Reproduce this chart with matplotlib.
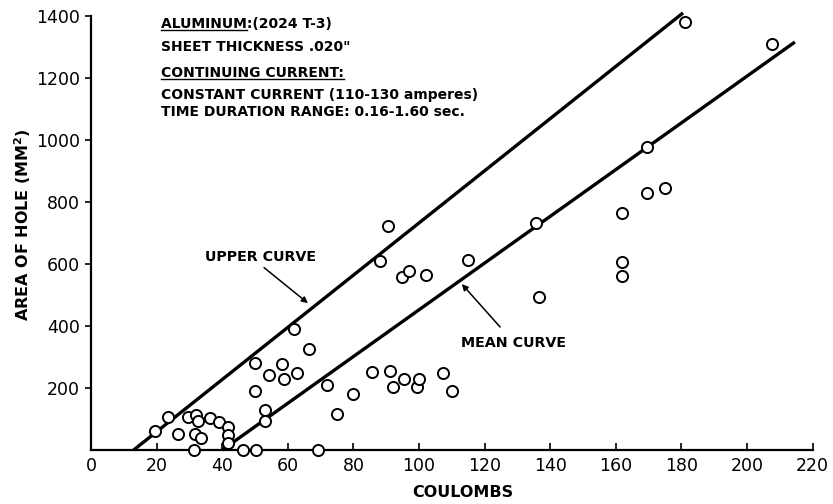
import matplotlib
matplotlib.use('Agg')
import matplotlib.pyplot as plt
from matplotlib.lines import Line2D

# data (coulombs, area mm^2)
coulombs = [19.5, 23.5, 26.6, 29.7, 32.0, 32.5, 31.7, 33.5, 36.3, 39.1,
            41.7, 41.9, 41.7, 31.5, 46.4, 50.3, 69.1, 53.0, 53.0, 50.0,
            50.0, 54.4, 58.1, 58.8, 62.9, 66.4, 62.0, 72.0, 75.0, 80.0,
            85.6, 91.2, 92.2, 95.5, 99.3, 100.0, 107.2, 110.0, 90.7, 88.0,
            94.7, 96.8, 102.0, 115.0, 135.6, 136.6, 161.8, 161.8, 161.8,
            169.5, 169.5, 175.0, 181.0, 207.6]
area = [61, 108, 52, 106, 113, 94, 52, 38, 103, 91,
        73, 48, 23, 0, 0, 0, 0, 129, 94, 191,
        280, 242, 276, 228, 250, 326, 389, 211, 116, 181,
        252, 254, 202, 228, 202, 228, 250, 190, 723, 611,
        559, 577, 566, 613, 733, 494, 764, 607, 562,
        977, 829, 845, 1380, 1310]

upper_x = [13.0, 180.5]
upper_y = [0, 1410]
mean_x = [40.0, 214.6]
mean_y = [0, 1316]

xticks = list(range(0, 221, 20))
yticks = list(range(200, 1401, 200))

info_lines = ['ALUMINUM:(2024 T-3)',
              'SHEET THICKNESS .020"',
              'CONTINUING CURRENT:',
              'CONSTANT CURRENT (110-130 amperes)',
              'TIME DURATION RANGE: 0.16-1.60 sec.']

fig = plt.figure(figsize=(8.33, 5.04), dpi=100)
ax = fig.add_axes([91 / 833, 54 / 504, 721.6 / 833, 434 / 504])

ax.plot(upper_x, upper_y, color='black', lw=2.4, clip_on=False, solid_capstyle='butt')
ax.plot(mean_x, mean_y, color='black', lw=2.4, clip_on=False, solid_capstyle='butt')
ax.plot(coulombs, area, 'o', ms=8, mfc='white', mec='black', mew=1.4,
        clip_on=False, zorder=3)

ax.set_xlim(0, 220)
ax.set_ylim(0, 1400)
ax.set_xticks(xticks)
ax.set_yticks(yticks)
ax.set_xticklabels([str(v) for v in xticks], fontsize=12.5)
ax.set_yticklabels([str(v) for v in yticks], fontsize=12.5)
ax.tick_params(axis='x', direction='in', length=5, width=1.2, pad=5)
ax.tick_params(axis='y', direction='out', length=4, width=1.2, pad=4)
for s in ['top', 'right']:
    ax.spines[s].set_visible(False)
for s in ['left', 'bottom']:
    ax.spines[s].set_linewidth(1.6)

ax.set_xlabel('COULOMBS', fontsize=11.5, fontweight='bold')
ax.xaxis.set_label_coords(0.515, -0.097)
ax.xaxis.label.set_va('center')
ax.set_ylabel('AREA OF HOLE (MM$^\\mathbf{2}$)', fontsize=11.5, fontweight='bold')
ax.yaxis.set_label_coords(-0.08, 0.52)

# annotations
ax.annotate('', xy=(66.8, 468), xytext=(52.1, 594),
            arrowprops=dict(arrowstyle='-|>', color='black', lw=1.1, mutation_scale=9))
ax.text(34.8, 623, 'UPPER CURVE', fontsize=10.3, fontweight='bold', va='center')
ax.annotate('', xy=(112.5, 542), xytext=(125.3, 390),
            arrowprops=dict(arrowstyle='-|>', color='black', lw=1.1, mutation_scale=9))
ax.text(112.8, 345, 'MEAN CURVE', fontsize=10.3, fontweight='bold', va='center')

# info block, positions in figure pixels from top
ys = [24, 47, 73, 95, 112]
fs_info = 10
texts = []
for s, yp in zip(info_lines, ys):
    t = fig.text(161 / 833, 1 - yp / 504, s, fontsize=fs_info, fontweight='bold',
                 va='center', ha='left')
    texts.append(t)

fig.canvas.draw()
r = fig.canvas.get_renderer()
# underline "ALUMINUM" and "CONTINUING CURRENT:"
for t, part in [(texts[0], 'ALUMINUM'), (texts[2], 'CONTINUING CURRENT:')]:
    bb = t.get_window_extent(r)
    tmp = fig.text(0, 0, part, fontsize=fs_info, fontweight='bold')
    w = tmp.get_window_extent(r).width
    tmp.remove()
    yl = bb.y0 + 1
    fig.add_artist(Line2D([bb.x0 / 833, (bb.x0 + w) / 833], [yl / 504, yl / 504],
                          color='black', lw=1.0))

fig.savefig('out.png', dpi=100)
